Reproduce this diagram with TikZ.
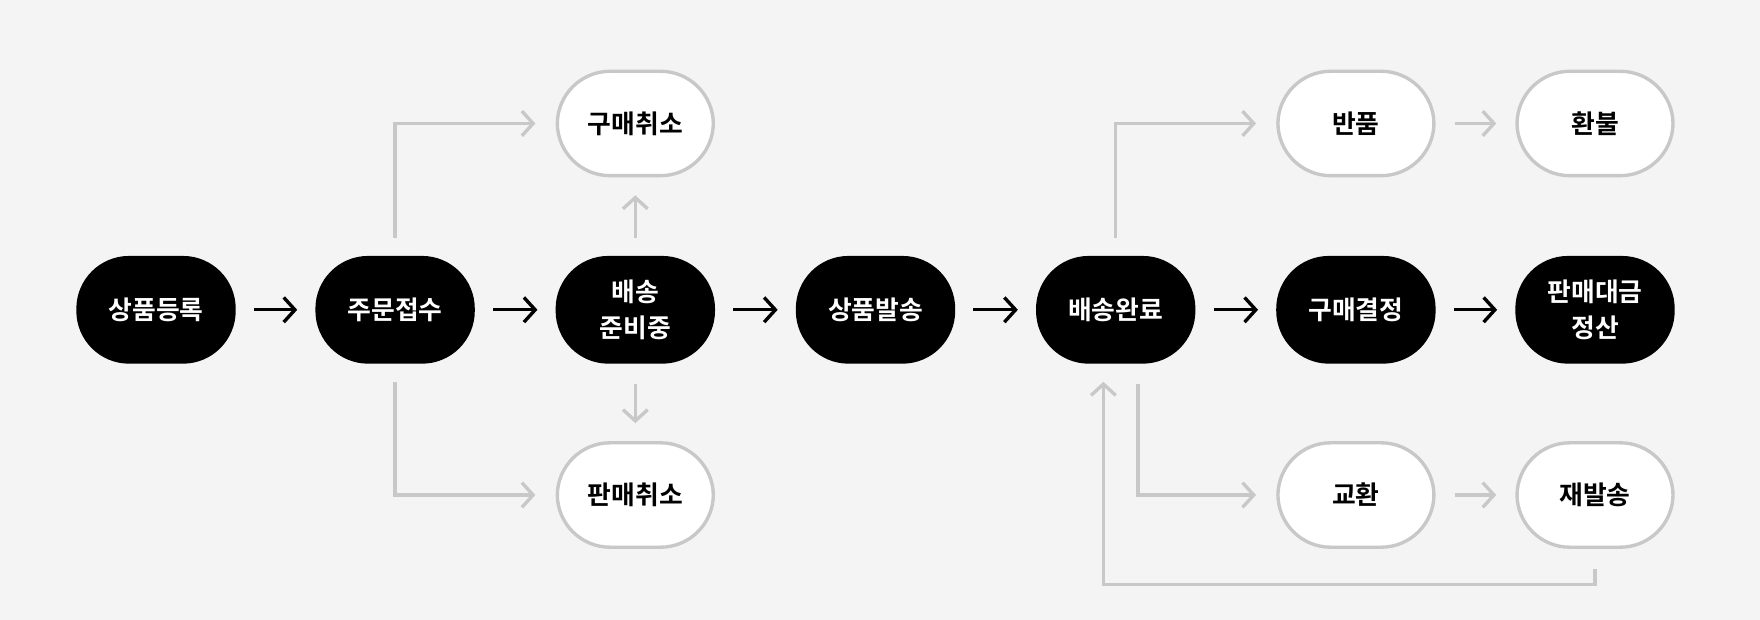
\documentclass[tikz,border=0pt]{standalone}
\usepackage{fontspec}
\setmainfont{Noto Sans CJK KR}[BoldFont={Noto Sans CJK KR Bold}]
\usetikzlibrary{arrows.meta}
\definecolor{bgc}{HTML}{F4F4F4}
\definecolor{linec}{HTML}{C8C8C8}
\tikzset{
  box/.style={rectangle, rounded corners=47pt, minimum width=142pt, minimum height=96pt, inner sep=0pt, font=\fontsize{23}{32}\selectfont\bfseries, align=center},
  main/.style={box, fill=black, text=white},
  side/.style={box, fill=white, draw=linec, line width=3pt, minimum width=139pt, minimum height=93pt},
  tip/.style={-{Straight Barb[length=10pt, width=22pt, line width=3pt]}},
  blk/.style={tip, line width=3pt, black},
  gry/.style={tip, line width=3pt, linec},
}
\begin{document}
\begin{tikzpicture}[x=1pt, y=-1pt]
    \fill[bgc] (0,0) rectangle (1568,552);
    \useasboundingbox (0,0) rectangle (1568,552);
    \node[main] (reg) at (139,276) {상품등록};
    \node[main] (order) at (352,276) {주문접수};
    \node[main] (prep) at (566,276) {배송\\준비중};
    \node[main] (ship) at (780,276) {상품발송};
    \node[main] (done) at (994,276) {배송완료};
    \node[main] (confirm) at (1208,276) {구매결정};
    \node[main] (settle) at (1421,276) {판매대금\\정산};
    \node[side] (cancelbuy) at (566,110) {구매취소};
    \node[side] (cancelsell) at (566,441) {판매취소};
    \node[side] (ret) at (1208,110) {반품};
    \node[side] (refund) at (1421,110) {환불};
    \node[side] (exch) at (1208,441) {교환};
    \node[side] (resend) at (1421,441) {재발송};
    \draw[blk] ([xshift=16pt]reg.east) -- ([xshift=-16pt]order.west);
    \draw[blk] ([xshift=16pt]order.east) -- ([xshift=-16pt]prep.west);
    \draw[blk] ([xshift=16pt]prep.east) -- ([xshift=-16pt]ship.west);
    \draw[blk] ([xshift=16pt]ship.east) -- ([xshift=-16pt]done.west);
    \draw[blk] ([xshift=16pt]done.east) -- ([xshift=-16pt]confirm.west);
    \draw[blk] ([xshift=16pt]confirm.east) -- ([xshift=-16pt]settle.west);
    \draw[gry] ([yshift=16pt]order.north) |- ([xshift=-18pt]cancelbuy.west);
    \draw[gry] ([yshift=-16pt]order.south) |- ([xshift=-18pt]cancelsell.west);
    \draw[gry] ([yshift=16pt]prep.north) -- ([yshift=-16pt]cancelbuy.south);
    \draw[gry] ([yshift=-18pt]prep.south) -- ([yshift=16pt]cancelsell.north);
    \draw[gry] ([yshift=16pt]done.north) |- ([xshift=-18pt]ret.west);
    \draw[gry] ([xshift=20pt, yshift=-18pt]done.south) |- ([xshift=-18pt]exch.west);
    \draw[gry] ([xshift=17pt]ret.east) -- ([xshift=-17pt]refund.west);
    \draw[gry] ([xshift=17pt]exch.east) -- ([xshift=-17pt]resend.west);
    \coordinate (back) at ([yshift=-32pt]resend.south);
    \draw[gry] ([yshift=-18pt]resend.south) -- (back) -| ([xshift=-11pt, yshift=-16pt]done.south);
\end{tikzpicture}
\end{document}
